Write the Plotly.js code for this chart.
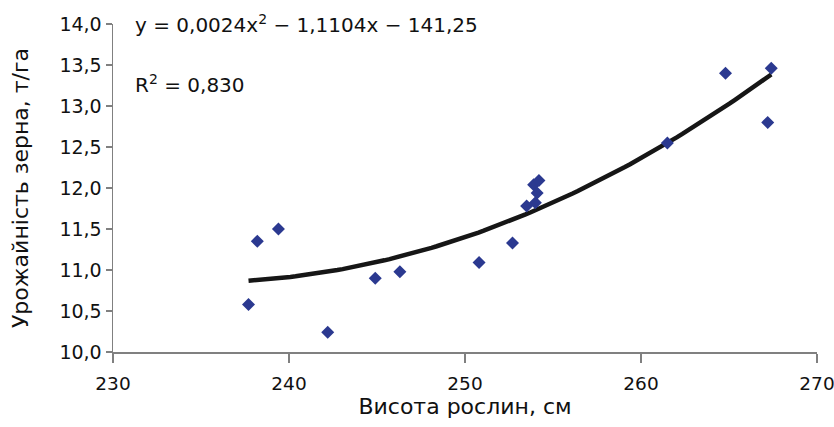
<!DOCTYPE html>
<html>
<head>
<meta charset="utf-8">
<script src="https://cdn.plot.ly/plotly-3.0.1.min.js"></script>
<style>html,body{margin:0;padding:0;background:#fff;}#chart{width:834px;height:427px;}</style>
</head>
<body>
<div id="chart"></div>
<script>
// Plant height (cm) and grain yield (t/ha)
const plantHeight = [237.7, 238.2, 239.4, 242.2, 244.9, 246.3, 250.8, 252.7, 253.5, 254.0, 253.9, 254.1, 254.2, 261.5, 264.8, 267.2, 267.4];
const grainYield  = [10.58, 11.35, 11.50, 10.24, 10.90, 10.98, 11.09, 11.33, 11.78, 11.82, 12.04, 11.94, 12.09, 12.55, 13.40, 12.80, 13.46];
const xTicks = [230, 240, 250, 260, 270];
const yTicks = [10.0, 10.5, 11.0, 11.5, 12.0, 12.5, 13.0, 13.5, 14.0];
const equationText = 'y = 0,0024x<sup>2</sup> − 1,1104x − 141,25';
const r2Text = 'R<sup>2</sup> = 0,830';

// Polynomial (order 2) least-squares trendline, as the spreadsheet computes it
function quadFit(xs, ys) {
  const n = xs.length;
  const m = xs.reduce((a, b) => a + b, 0) / n;
  let S = [0,0,0,0,0], T = [0,0,0];
  for (let i = 0; i < n; i++) {
    const u = xs[i] - m;
    for (let k = 0; k < 5; k++) S[k] += Math.pow(u, k);
    for (let k = 0; k < 3; k++) T[k] += ys[i] * Math.pow(u, k);
  }
  const A = [[S[0],S[1],S[2],T[0]],[S[1],S[2],S[3],T[1]],[S[2],S[3],S[4],T[2]]];
  for (let c = 0; c < 3; c++) {
    for (let r = c + 1; r < 3; r++) {
      const f = A[r][c] / A[c][c];
      for (let k = c; k < 4; k++) A[r][k] -= f * A[c][k];
    }
  }
  const b = [0,0,0];
  for (let r = 2; r >= 0; r--) {
    let s = A[r][3];
    for (let k = r + 1; k < 3; k++) s -= A[r][k] * b[k];
    b[r] = s / A[r][r];
  }
  return x => b[0] + b[1] * (x - m) + b[2] * (x - m) * (x - m);
}
const fit = quadFit(plantHeight, grainYield);
const xMin = Math.min(...plantHeight), xMax = Math.max(...plantHeight);
const trendX = [], trendY = [];
for (let i = 0; i <= 100; i++) {
  const x = xMin + (xMax - xMin) * i / 100;
  trendX.push(x); trendY.push(fit(x));
}

const font = 'DejaVu Sans, sans-serif';
const data = [
  {x: trendX, y: trendY, type: 'scatter', mode: 'lines',
   line: {color: '#161616', width: 4.5}, hoverinfo: 'skip'},
  {x: plantHeight, y: grainYield, type: 'scatter', mode: 'markers',
   marker: {symbol: 'diamond', size: 10, color: '#2b3990'}}
];
const layout = {
  width: 834, height: 427,
  margin: {l: 113, r: 17, t: 24, b: 75},
  showlegend: false,
  separators: ', ',
  paper_bgcolor: '#fff', plot_bgcolor: '#fff',
  font: {family: font, size: 18, color: '#111'},
  xaxis: {
    range: [230, 270], tickvals: xTicks, ticktext: xTicks.map(String),
    showgrid: false, zeroline: false, showline: true, linecolor: '#808080', linewidth: 1.5,
    ticks: 'outside', ticklen: 9, tickwidth: 1.5, tickcolor: '#808080',
    ticklabeloverflow: 'allow', ticklabelstandoff: 5,
    tickfont: {family: font, size: 18.5, color: '#111'},
    title: {text: 'Висота рослин, см', font: {family: font, size: 22, color: '#111'}, standoff: 4}
  },
  yaxis: {
    range: [10, 14], tickvals: yTicks, ticktext: yTicks.map(v => v.toFixed(1).replace('.', ',')),
    showgrid: false, zeroline: false, showline: true, linecolor: '#808080', linewidth: 1.5,
    ticks: 'outside', ticklen: 6, tickwidth: 1.5, tickcolor: '#808080',
    tickfont: {family: font, size: 19, color: '#111'},
    title: {text: 'Урожайність зерна, т/га', font: {family: font, size: 22, color: '#111'}, standoff: 24}
  },
  annotations: [
    {xref: 'paper', yref: 'paper', x: 0.028, y: 1.0, xanchor: 'left', yanchor: 'middle',
     text: equationText, showarrow: false, font: {family: font, size: 20, color: '#111'}},
    {xref: 'paper', yref: 'paper', x: 0.028, y: 0.817, xanchor: 'left', yanchor: 'middle',
     text: r2Text, showarrow: false, font: {family: font, size: 20, color: '#111'}}
  ]
};
Plotly.newPlot('chart', data, layout, {displayModeBar: false, staticPlot: true});
</script>
</body>
</html>
